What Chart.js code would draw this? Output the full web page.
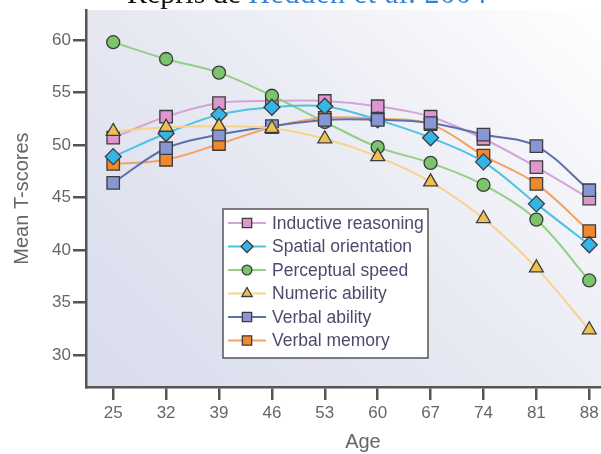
<!DOCTYPE html>
<html>
<head>
<meta charset="utf-8">
<script src="https://cdn.jsdelivr.net/npm/chart.js@4"></script>
<style>
  html, body { margin: 0; padding: 0; background: #fff; width: 601px; height: 454px; overflow: hidden; }
  #wrap { position: relative; width: 601px; height: 454px; overflow: hidden; }
  #chart { position: absolute; left: 0; top: 0; }
  #source {
    position: absolute; left: 127px; top: -22px; white-space: nowrap;
    font: 30px "Liberation Serif", "DejaVu Serif", serif; line-height: 30px; color: #111;
  }
  #source span { color: #3a82d6; margin-left: 7px; letter-spacing: 0.7px; }
</style>
</head>
<body>
<div id="wrap">
  <canvas id="chart" width="650" height="454"></canvas>
  <div id="source">Repris de<span>Hedden et al. 2004</span></div>
</div>
<script>
const ages = [25, 32, 39, 46, 53, 60, 67, 74, 81, 88];
const yTicks = [30, 35, 40, 45, 50, 55, 60];

const inductiveReasoning = [50.7, 52.7, 54.0, 54.2, 54.2, 53.7, 52.7, 50.6, 47.9, 44.9];
const spatialOrientation = [48.9, 51.1, 52.9, 53.6, 53.7, 52.4, 50.7, 48.4, 44.4, 40.5];
const perceptualSpeed = [59.8, 58.2, 56.9, 54.7, 52.2, 49.8, 48.3, 46.2, 42.9, 37.1];
const numericAbility = [51.3, 51.7, 51.8, 51.6, 50.6, 48.9, 46.5, 43.0, 38.3, 32.4];
const verbalAbility = [46.4, 49.7, 51.0, 51.8, 52.4, 52.4, 52.1, 51.0, 49.9, 45.7];
const verbalMemory = [48.2, 48.6, 50.1, 51.7, 52.6, 52.5, 52.0, 49.0, 46.3, 41.8];

const series = [
  { label: "Inductive reasoning", data: inductiveReasoning, line: "#d6a3d8", fill: "#de96cf", shape: "rect", r: 8.8, order: 6 },
  { label: "Spatial orientation", data: spatialOrientation, line: "#4cc2e4", fill: "#36b4e6", shape: "rectRot", r: 8, order: 3 },
  { label: "Perceptual speed", data: perceptualSpeed, line: "#92cf84", fill: "#7cc46c", shape: "circle", r: 6.5, order: 5 },
  { label: "Numeric ability", data: numericAbility, line: "#f8d38a", fill: "#eec052", shape: "triangle", r: 8, order: 1 },
  { label: "Verbal ability", data: verbalAbility, line: "#5d70ac", fill: "#8896d6", shape: "rect", r: 8.8, order: 2 },
  { label: "Verbal memory", data: verbalMemory, line: "#f4a264", fill: "#f0882c", shape: "rect", r: 8.8, order: 4 },
];

const axisColor = "#555";
const textColor = "#666";
const sans = '"Liberation Sans", Arial, sans-serif';

// soft bluish gradient behind the plot
const plotBackground = {
  id: "plotBackground",
  beforeDraw(chart) {
    const { ctx, chartArea: a } = chart;
    const g = ctx.createLinearGradient(a.left, a.bottom, a.left + 440, a.top - 80);
    g.addColorStop(0, "#d8dcec");
    g.addColorStop(0.45, "#e6e8f2");
    g.addColorStop(1, "#ffffff");
    ctx.save();
    ctx.fillStyle = g;
    ctx.fillRect(a.left, a.top, a.right - a.left, a.bottom - a.top);
    ctx.restore();
  },
};

// boxed legend sitting inside the plot
const boxLegend = {
  id: "boxLegend",
  afterDraw(chart) {
    const { ctx } = chart;
    const x = 223, y = 209, w = 205, h = 149, row = 23.5;
    ctx.save();
    ctx.fillStyle = "#fff";
    ctx.fillRect(x, y, w, h);
    ctx.strokeStyle = "#555";
    ctx.lineWidth = 1.5;
    ctx.strokeRect(x, y, w, h);
    ctx.font = "17.5px " + sans;
    ctx.textBaseline = "middle";
    chart.data.datasets.forEach((ds, i) => {
      const cy = y + 14 + i * row;
      ctx.strokeStyle = ds.borderColor;
      ctx.lineWidth = 2;
      ctx.beginPath();
      ctx.moveTo(x + 5, cy);
      ctx.lineTo(x + 43, cy);
      ctx.stroke();
      ctx.fillStyle = ds.pointBackgroundColor;
      ctx.strokeStyle = ds.pointBorderColor;
      ctx.lineWidth = 1.3;
      Chart.helpers.drawPoint(ctx, { pointStyle: ds.pointStyle, radius: ds.pointRadius * 0.75, borderWidth: 1.3 }, x + 24, cy);
      ctx.fillStyle = "#4b4b6e";
      ctx.fillText(ds.label, x + 49, cy + 1);
    });
    ctx.restore();
  },
};

new Chart(document.getElementById("chart"), {
  type: "line",
  data: {
    labels: ages,
    datasets: series.map((s) => ({
      label: s.label,
      data: s.data.map((v, i) => ({ x: ages[i], y: v })),
      borderColor: s.line,
      borderWidth: 2,
      tension: 0.35,
      pointStyle: s.shape,
      pointRadius: s.r,
      pointBackgroundColor: s.fill,
      pointBorderColor: "#3c3c3c",
      pointBorderWidth: 1.3,
      order: s.order,
    })),
  },
  options: {
    responsive: false,
    devicePixelRatio: 1,
    animation: false,
    layout: { padding: { top: 8, right: 0, left: 0, bottom: 0 } },
    plugins: { legend: { display: false }, tooltip: { enabled: false } },
    scales: {
      x: {
        type: "linear",
        min: 21.4,
        max: 94.7,
        afterBuildTicks: (scale) => { scale.ticks = ages.map((v) => ({ value: v })); },
        afterFit: (scale) => { scale.height = 67; scale.paddingLeft = 0; scale.paddingRight = 0; },
        border: { display: true, color: axisColor, width: 2.5 },
        grid: { drawOnChartArea: false, drawTicks: true, tickLength: 13, color: axisColor, lineWidth: 2.5 },
        ticks: { color: textColor, padding: 3, font: { family: sans, size: 17 } },
        title: {
          display: true, text: "Age", color: textColor, padding: { top: 0, bottom: 0 },
          font: { family: sans, size: 20 },
        },
      },
      y: {
        min: 26.95,
        max: 62.86,
        afterBuildTicks: (scale) => { scale.ticks = yTicks.map((v) => ({ value: v })); },
        afterFit: (scale) => { scale.width = 86; scale.paddingTop = 0; scale.paddingBottom = 0; },
        border: { display: true, color: axisColor, width: 2.5 },
        grid: { drawOnChartArea: false, drawTicks: true, tickLength: 13, color: axisColor, lineWidth: 2.5 },
        ticks: { color: textColor, padding: 2, font: { family: sans, size: 17 } },
        title: {
          display: true, text: "Mean T-scores", color: textColor, padding: { top: 10, bottom: 0 },
          font: { family: sans, size: 20 },
        },
      },
    },
  },
  plugins: [plotBackground, boxLegend],
});
</script>
</body>
</html>
